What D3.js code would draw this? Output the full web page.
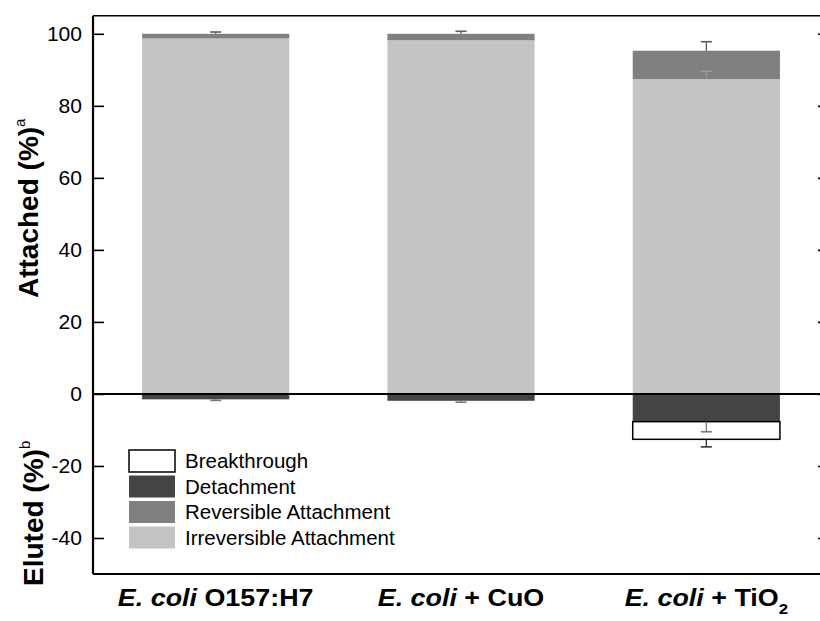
<!DOCTYPE html>
<html>
<head>
<meta charset="utf-8">
<script src="https://cdn.jsdelivr.net/npm/d3@7"></script>
<style>
  body { margin: 0; background: #fff; }
  svg { display: block; }
  text { font-family: "Liberation Sans", Arial, Helvetica, sans-serif; fill: #000; }
</style>
</head>
<body>
<svg id="chart" width="820" height="621"></svg>
<script>
// Column categories
const categories = ["E. coli O157:H7", "E. coli + CuO", "E. coli + TiO2"];

// Stacked percentages (attached above zero, eluted below zero)
const irreversible = [98.7, 98.2, 87.4];
const reversible   = [1.3, 1.8, 7.9];
const detachment   = [-1.5, -1.9, -7.7];
const breakthrough = [0, 0, -4.9];

// Error-bar half widths for each segment
const irreversibleErr = [0, 0, 2.2];
const reversibleErr   = [0.5, 0.7, 2.5];
const detachmentErr   = [0.3, 0.4, 2.8];
const breakthroughErr = [0, 0, 2.1];

const yTicks = [-40, -20, 0, 20, 40, 60, 80, 100];

const seriesNames = ["Irreversible Attachment", "Reversible Attachment", "Detachment", "Breakthrough"];
const legendOrder = ["Breakthrough", "Detachment", "Reversible Attachment", "Irreversible Attachment"];

const seriesValues = {
  "Irreversible Attachment": irreversible,
  "Reversible Attachment": reversible,
  "Detachment": detachment,
  "Breakthrough": breakthrough
};
const seriesErr = {
  "Irreversible Attachment": irreversibleErr,
  "Reversible Attachment": reversibleErr,
  "Detachment": detachmentErr,
  "Breakthrough": breakthroughErr
};
const fills = {
  "Irreversible Attachment": "#c4c4c4",
  "Reversible Attachment": "#808080",
  "Detachment": "#444444",
  "Breakthrough": "#ffffff"
};
const errColors = {
  "Irreversible Attachment": "#9a9a9a",
  "Reversible Attachment": "#5a5a5a",
  "Detachment": "#7a7a7a",
  "Breakthrough": "#333333"
};

const svg = d3.select("#chart");
const L = 93, R = 829, T = 15.8, B = 574;

const x = d3.scaleBand().domain(categories).range([L, R]).paddingInner(0.4).paddingOuter(0.2);
const y = d3.scaleLinear().domain([-50, 105]).range([B, T]);

const rows = categories.map((c, i) => {
  const r = { cat: c };
  seriesNames.forEach(k => r[k] = seriesValues[k][i]);
  return r;
});
const stacked = d3.stack().keys(seriesNames).offset(d3.stackOffsetDiverging)(rows);

// Bars
const layers = svg.append("g").selectAll("g").data(stacked).join("g")
  .attr("fill", d => fills[d.key])
  .attr("stroke", d => d.key === "Breakthrough" ? "#000" : "none")
  .attr("stroke-width", 1.5);

layers.selectAll("rect")
  .data(d => d.filter(p => p[0] !== p[1]))
  .join("rect")
  .attr("x", p => x(p.data.cat))
  .attr("width", x.bandwidth())
  .attr("y", p => y(Math.max(p[0], p[1])))
  .attr("height", p => Math.abs(y(p[0]) - y(p[1])));

// Error bars
const errG = svg.append("g");
stacked.forEach(layer => {
  const errs = seriesErr[layer.key];
  layer.forEach((p, i) => {
    const e = errs[i];
    if (!e || p[0] === p[1]) return;
    const positive = seriesValues[layer.key][i] > 0;
    const end = positive ? p[1] : p[0];
    const tip = positive ? end + e : end - e;
    const cx = x(p.data.cat) + x.bandwidth() / 2;
    errG.append("line")
      .attr("x1", cx).attr("x2", cx)
      .attr("y1", y(end)).attr("y2", y(tip))
      .attr("stroke", errColors[layer.key]).attr("stroke-width", 1.3);
    errG.append("line")
      .attr("x1", cx - 5.5).attr("x2", cx + 5.5)
      .attr("y1", y(tip)).attr("y2", y(tip))
      .attr("stroke", errColors[layer.key]).attr("stroke-width", 1.6);
  });
});

// Zero line
svg.append("line")
  .attr("x1", L).attr("x2", R).attr("y1", y(0)).attr("y2", y(0))
  .attr("stroke", "#000").attr("stroke-width", 2);

// Axes with inward ticks
const tickStretch = 1.08;
const leftAxis = svg.append("g").attr("transform", `translate(${L},0)`)
  .call(d3.axisLeft(y).tickValues(yTicks).tickSizeInner(-11).tickSizeOuter(0).tickPadding(11).tickFormat(d => String(d)));
leftAxis.select(".domain").remove();
leftAxis.selectAll(".tick line").attr("stroke", "#000").attr("stroke-width", 1.6);
leftAxis.selectAll(".tick text")
  .attr("font-size", 19.5).attr("font-family", null)
  .attr("x", -11 / tickStretch)
  .attr("transform", `scale(${tickStretch},1)`);

const rightAxis = svg.append("g").attr("transform", `translate(${R},0)`)
  .call(d3.axisRight(y).tickValues(yTicks).tickSizeInner(-11).tickSizeOuter(0).tickFormat(""));
rightAxis.select(".domain").remove();
rightAxis.selectAll(".tick line").attr("stroke", "#000").attr("stroke-width", 1.6);

// Frame
const frame = svg.append("g").attr("stroke", "#000").attr("fill", "none");
frame.append("line").attr("x1", L).attr("x2", L).attr("y1", T).attr("y2", B).attr("stroke-width", 2.2);
frame.append("line").attr("x1", L).attr("x2", R).attr("y1", T).attr("y2", T).attr("stroke-width", 1.6);
frame.append("line").attr("x1", L).attr("x2", R).attr("y1", B).attr("y2", B).attr("stroke-width", 2.2);
frame.append("line").attr("x1", R).attr("x2", R).attr("y1", T).attr("y2", B).attr("stroke-width", 2.2);

// Category labels: italic species name, bold remainder, chemical digits as subscript
const labelStretch = 1.12;
categories.forEach(c => {
  const m = c.match(/^(E\. coli)(.*)$/);
  const g = svg.append("g")
    .attr("transform", `translate(${x(c) + x.bandwidth() / 2},606) scale(${labelStretch},1)`);
  const t = g.append("text").attr("text-anchor", "middle")
    .attr("font-size", 24).attr("font-weight", "bold");
  t.append("tspan").attr("font-style", "italic").text(m[1]);
  const rest = m[2];
  const sub = rest.match(/^(.*O)(2)$/);
  if (sub) {
    t.append("tspan").text(sub[1]);
    t.append("tspan").attr("font-size", 15).attr("dy", 8).text(sub[2]);
  } else {
    t.append("tspan").text(rest);
  }
});

// Axis titles
function yTitle(xPos, yPos, main, sup) {
  const t = svg.append("text")
    .attr("transform", `translate(${xPos},${yPos}) rotate(-90)`)
    .attr("text-anchor", "start")
    .attr("font-size", 28).attr("font-weight", "bold");
  t.append("tspan").text(main);
  t.append("tspan").attr("font-size", 15).attr("font-weight", "normal").attr("dy", -13).text(sup);
}
yTitle(38, 298, "Attached (%)", "a");
yTitle(43, 586, "Eluted (%)", "b");

// Legend
const legend = svg.append("g");
legendOrder.forEach((k, i) => {
  const by = 450 + i * 25.5;
  legend.append("rect")
    .attr("x", 129).attr("y", by).attr("width", 46).attr("height", 22)
    .attr("fill", fills[k])
    .attr("stroke", k === "Breakthrough" ? "#000" : "none")
    .attr("stroke-width", 1.5);
  legend.append("text")
    .attr("x", 185).attr("y", by + 11).attr("dy", "0.36em")
    .attr("font-size", 20.5).text(k);
});
</script>
</body>
</html>
